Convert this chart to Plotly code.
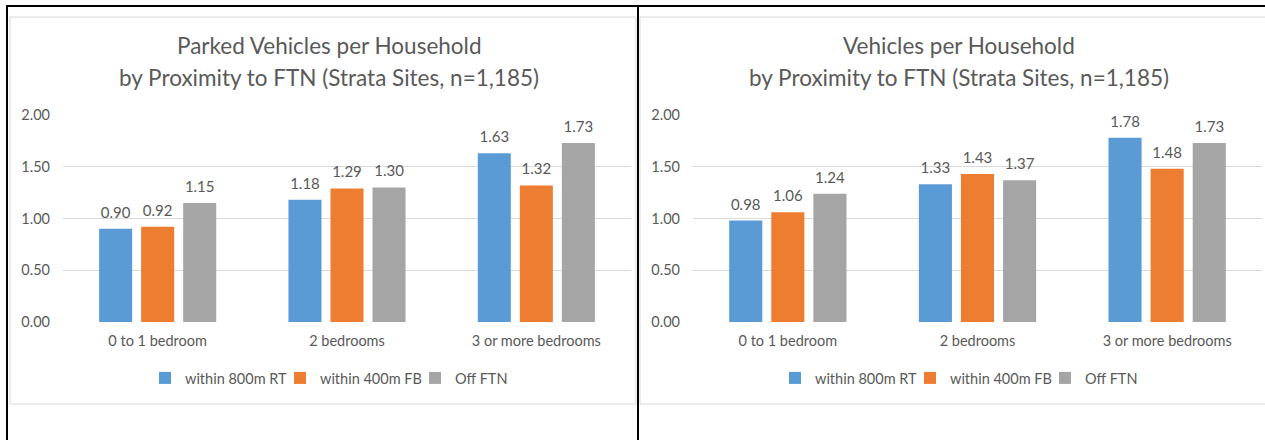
import plotly.graph_objects as go

W, H = 1265, 440

categories = ["0 to 1 bedroom", "2 bedrooms", "3 or more bedrooms"]
series_names = ["within 800m RT", "within 400m FB", "Off FTN"]
colors = ["#5B9BD5", "#ED7D31", "#A5A5A5"]

parked_rt = [0.90, 1.18, 1.63]
parked_fb = [0.92, 1.29, 1.32]
parked_off = [1.15, 1.30, 1.73]

vehicles_rt = [0.98, 1.33, 1.78]
vehicles_fb = [1.06, 1.43, 1.48]
vehicles_off = [1.24, 1.37, 1.73]

title1 = ["Parked Vehicles per Household", "by Proximity to FTN (Strata Sites, n=1,185)"]
title2 = ["Vehicles per Household", "by Proximity to FTN (Strata Sites, n=1,185)"]

FONT = "Lato, Calibri, Carlito, sans-serif"
TXT = "#595959"

fig = go.Figure()

def px_x(x):
    return x / W

def px_y(y):
    return 1 - y / H

panels = [
    ("x", "y", "legend", [parked_rt, parked_fb, parked_off]),
    ("x2", "y2", "legend2", [vehicles_rt, vehicles_fb, vehicles_off]),
]
for xa, ya, lg, data in panels:
    for k, (name, col, vals) in enumerate(zip(series_names, colors, data)):
        fig.add_trace(go.Bar(
            x=categories, y=vals, name=name, offsetgroup=str(k),
            marker=dict(color=col, line=dict(width=0)),
            xaxis=xa, yaxis=ya, legend=lg, hoverinfo="skip",
        ))
    # value labels placed above each bar (grouped like the bars)
    for k, (name, vals) in enumerate(zip(series_names, data)):
        fig.add_trace(go.Scatter(
            x=categories, y=vals, mode="markers+text", offsetgroup=str(k),
            marker=dict(size=10, opacity=0, color="white"),
            text=[f"{v:.2f}" for v in vals], textposition="top center",
            textfont=dict(family=FONT, size=15, color=TXT),
            cliponaxis=False, showlegend=False, hoverinfo="skip",
            xaxis=xa, yaxis=ya,
        ))

axis_common_x = dict(showgrid=False, showline=False, ticks="", zeroline=False,
                     tickfont=dict(family=FONT, size=14.5, color=TXT), ticklabelstandoff=8)
axis_common_y = dict(range=[0, 2], dtick=0.5, tickformat=".2f", showgrid=True, gridcolor="#D9D9D9",
                     gridwidth=1, zeroline=False, showline=False, ticks="",
                     tickfont=dict(family=FONT, size=14.5, color=TXT), ticklabelstandoff=12)

legend_common = dict(orientation="h", yanchor="middle", y=px_y(378), xanchor="left",
                     font=dict(family=FONT, size=14.5, color=TXT), bgcolor="rgba(0,0,0,0)",
                     entrywidth=90, itemwidth=30)

ydom = [px_y(322), px_y(115)]
fig.update_layout(
    width=W, height=H, margin=dict(l=0, r=0, t=0, b=0, autoexpand=False),
    paper_bgcolor="white", plot_bgcolor="white",
    barmode="group", bargap=0.334, bargroupgap=0.214,
    scattermode="group", scattergap=0.334,
    xaxis=dict(domain=[px_x(63), px_x(631)], anchor="y", **axis_common_x),
    yaxis=dict(domain=ydom, anchor="x", **axis_common_y),
    xaxis2=dict(domain=[px_x(693), px_x(1262)], anchor="y2", **axis_common_x),
    yaxis2=dict(domain=ydom, anchor="x2", **axis_common_y),
    legend=dict(x=px_x(145), **legend_common),
    legend2=dict(x=px_x(775), **legend_common),
    showlegend=True,
)

shapes = []
# light chart borders
shapes.append(dict(type="rect", xref="paper", yref="paper", x0=px_x(10), x1=px_x(636), y0=px_y(404), y1=px_y(17),
                   line=dict(color="#D9D9D9", width=1)))
shapes.append(dict(type="rect", xref="paper", yref="paper", x0=px_x(640), x1=px_x(1270), y0=px_y(404), y1=px_y(17),
                   line=dict(color="#D9D9D9", width=1)))
# black table lines
shapes.append(dict(type="line", xref="paper", yref="paper", x0=px_x(6), x1=px_x(1265), y0=px_y(6), y1=px_y(6),
                   line=dict(color="black", width=2)))
shapes.append(dict(type="line", xref="paper", yref="paper", x0=px_x(7), x1=px_x(7), y0=px_y(5), y1=px_y(440),
                   line=dict(color="black", width=2)))
shapes.append(dict(type="line", xref="paper", yref="paper", x0=px_x(638), x1=px_x(638), y0=px_y(5), y1=px_y(440),
                   line=dict(color="black", width=2)))
fig.update_layout(shapes=shapes)

annotations = []
for cx, t in [(329, title1), (959, title2)]:
    for line, yy in zip(t, [45, 77]):
        annotations.append(dict(text=line, x=px_x(cx), y=px_y(yy), xref="paper", yref="paper",
                                xanchor="center", yanchor="middle", showarrow=False,
                                font=dict(family=FONT, size=22.5, color=TXT)))
fig.update_layout(annotations=annotations)

fig.write_html("out.html")
